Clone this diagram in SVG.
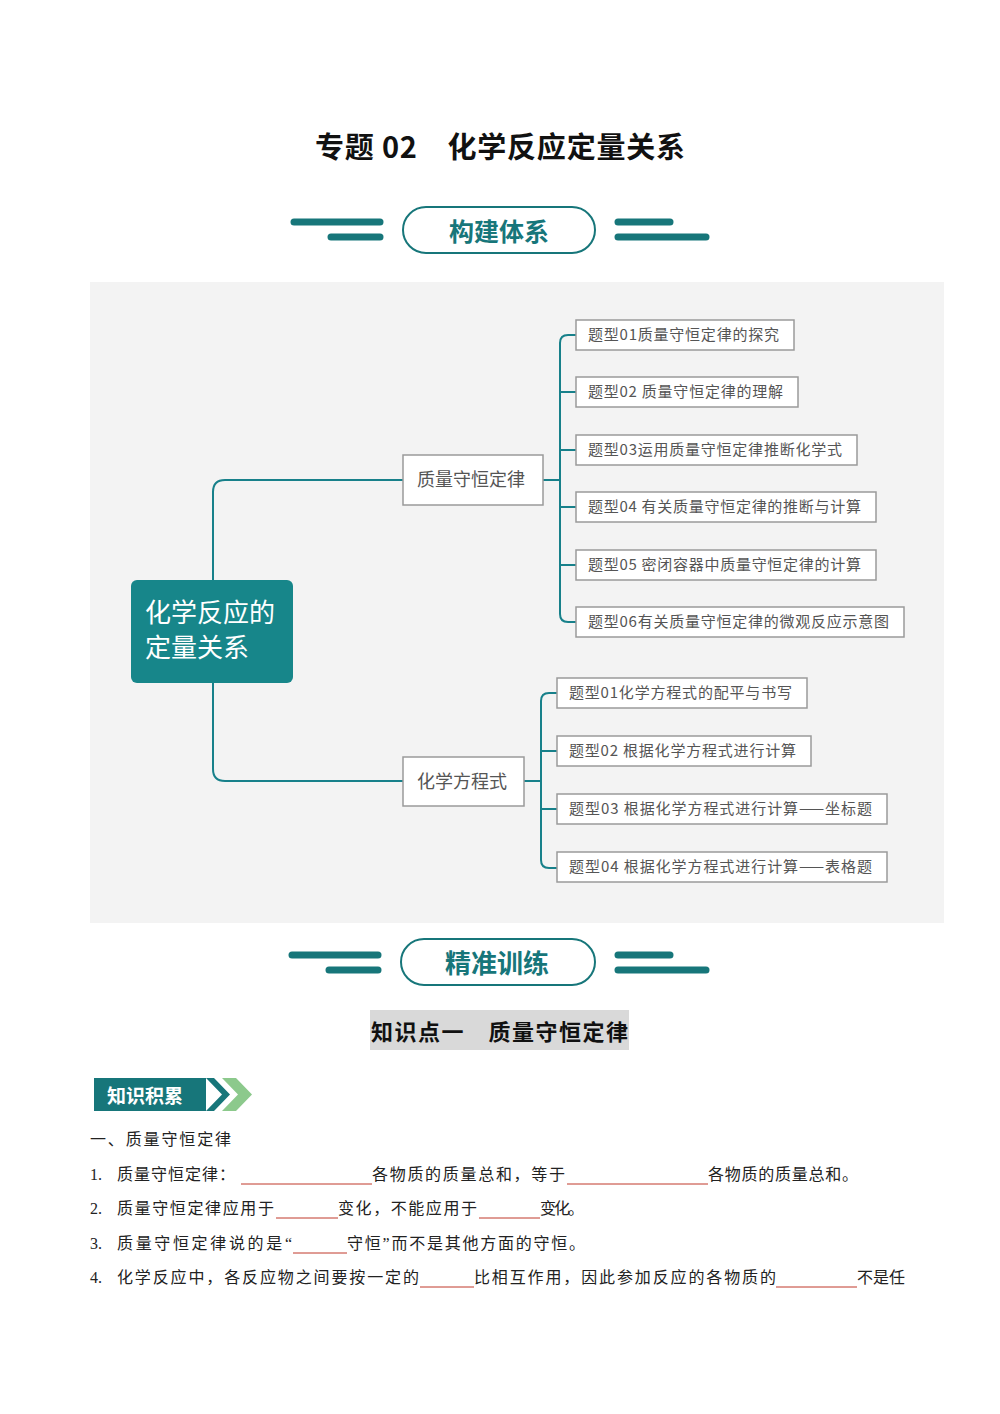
<svg xmlns="http://www.w3.org/2000/svg" width="1000" height="1414" viewBox="0 0 1000 1414">
<style>
.t{font-family:"Liberation Serif","Noto Sans CJK SC",serif;fill:#222}
.h{font-family:"Noto Sans CJK SC",sans-serif;font-weight:bold}
.bar{stroke:#17767a;stroke-width:7;stroke-linecap:round}
.leaf{fill:#fff;stroke:#9a9a9a;stroke-width:1.5}
.lt{font-family:"Noto Sans CJK SC",sans-serif;font-size:15px;fill:#555}
.con{fill:none;stroke:#17808a;stroke-width:2}
.blank{stroke:#c0392b;stroke-width:1}
</style>
<rect width="1000" height="1414" fill="#fff"/>
<text x="315" y="158" textLength="370" font-size="29" class="h" fill="#111">专题 02　化学反应定量关系</text>
<g id="banner1">
<line class="bar" x1="294" y1="222" x2="380" y2="222"/><line class="bar" x1="331" y1="237" x2="380" y2="237"/>
<line class="bar" x1="618" y1="222" x2="670" y2="222"/><line class="bar" x1="618" y1="237" x2="706" y2="237"/>
<rect x="403" y="207" width="192" height="46" rx="23" fill="#fff" stroke="#17767a" stroke-width="2"/>
<text x="499" y="241" text-anchor="middle" font-size="25" class="h" fill="#17767a">构建体系</text>
</g>
<rect x="90" y="282" width="854" height="641" fill="#f3f3f3"/>
<g id="connectors">
<path class="con" d="M213 580 V492 Q213 480 225 480 H403"/>
<path class="con" d="M213 683 V769 Q213 781 225 781 H403"/>
<path class="con" d="M543 480 H560 M568 335 Q560 335 560 343 V614 Q560 622 568 622 H576 M560 392 Q560 392 576 392 M560 450 H576 M560 507 H576 M560 565 H576 M568 335 H576" stroke-width="1.5"/>
<path class="con" d="M524 781 H541 M549 693 Q541 693 541 701 V860 Q541 868 549 868 H557 M549 693 H557 M541 751 H557 M541 809 H557" stroke-width="1.5"/>
</g>
<g id="center"><rect x="131" y="580" width="162" height="103" rx="6" fill="#17868a"/>
<text x="145" y="622" font-size="26" textLength="130" font-family="Noto Sans CJK SC,sans-serif" fill="#fff">化学反应的</text>
<text x="145" y="657" font-size="26" textLength="104" font-family="Noto Sans CJK SC,sans-serif" fill="#fff">定量关系</text></g>
<g id="n1"><rect class="leaf" x="403" y="455" width="140" height="50"/><text class="lt" x="417" y="486" style="font-size:18px">质量守恒定律</text></g>
<g id="n2"><rect class="leaf" x="403" y="757" width="121" height="49"/><text class="lt" x="417" y="788" style="font-size:18px">化学方程式</text></g>
<g id="l1"><rect class="leaf" x="576" y="320" width="218" height="30"/><text class="lt" x="588" y="340" textLength="191">题型01质量守恒定律的探究</text></g>
<g id="l2"><rect class="leaf" x="576" y="377" width="222" height="30"/><text class="lt" x="588" y="397" textLength="195">题型02 质量守恒定律的理解</text></g>
<g id="l3"><rect class="leaf" x="576" y="435" width="281" height="30"/><text class="lt" x="588" y="455" textLength="254">题型03运用质量守恒定律推断化学式</text></g>
<g id="l4"><rect class="leaf" x="576" y="492" width="300" height="30"/><text class="lt" x="588" y="512" textLength="273">题型04 有关质量守恒定律的推断与计算</text></g>
<g id="l5"><rect class="leaf" x="576" y="550" width="300" height="30"/><text class="lt" x="588" y="570" textLength="273">题型05 密闭容器中质量守恒定律的计算</text></g>
<g id="l6"><rect class="leaf" x="576" y="607" width="328" height="30"/><text class="lt" x="588" y="627" textLength="301">题型06有关质量守恒定律的微观反应示意图</text></g>
<g id="m1"><rect class="leaf" x="557" y="678" width="250" height="30"/><text class="lt" x="569" y="698" textLength="223">题型01化学方程式的配平与书写</text></g>
<g id="m2"><rect class="leaf" x="557" y="736" width="254" height="30"/><text class="lt" x="569" y="756" textLength="227">题型02 根据化学方程式进行计算</text></g>
<g id="m3"><rect class="leaf" x="557" y="794" width="330" height="30"/><text class="lt" x="569" y="814" textLength="303">题型03 根据化学方程式进行计算——坐标题</text></g>
<g id="m4"><rect class="leaf" x="557" y="852" width="330" height="30"/><text class="lt" x="569" y="872" textLength="303">题型04 根据化学方程式进行计算——表格题</text></g>
<g id="banner2">
<line class="bar" x1="292" y1="955" x2="378" y2="955"/><line class="bar" x1="329" y1="970" x2="378" y2="970"/>
<line class="bar" x1="618" y1="955" x2="670" y2="955"/><line class="bar" x1="618" y1="970" x2="706" y2="970"/>
<rect x="401" y="939" width="194" height="46" rx="23" fill="#fff" stroke="#17767a" stroke-width="2"/>
<text x="497" y="973" text-anchor="middle" font-size="26" class="h" fill="#17767a">精准训练</text>
</g>
<rect x="370" y="1010" width="259" height="40" fill="#d9d9d9"/>
<text x="371" y="1040" textLength="257" font-size="22" class="h" fill="#111">知识点一　质量守恒定律</text>
<g id="tag">
<rect x="94" y="1078" width="112" height="33" fill="#17767a"/>
<polygon points="206,1078 214,1078 230,1094.5 214,1111 206,1111 222,1094.5" fill="#17767a"/>
<polygon points="222,1078 236,1078 252,1094.5 236,1111 222,1111 238,1094.5" fill="#8cc98c"/>
<text x="107" y="1103" font-size="19" class="h" fill="#fff">知识积累</text>
</g>
<g font-size="16">
<text class="t" x="90" y="1145" textLength="141">一、质量守恒定律</text>
<text class="t" x="90" y="1180">1.</text><text class="t" x="117" y="1180" textLength="118">质量守恒定律：</text><text class="t" x="372" y="1180" textLength="193">各物质的质量总和，等于</text><text class="t" x="708" y="1180" textLength="150">各物质的质量总和。</text>
<line class="blank" x1="241" y1="1184" x2="372" y2="1184"/><line class="blank" x1="567" y1="1184" x2="708" y2="1184"/>
<text class="t" x="90" y="1214">2.</text><text class="t" x="117" y="1214" textLength="157">质量守恒定律应用于</text><text class="t" x="338" y="1214" textLength="139">变化，不能应用于</text><text class="t" x="540" y="1214" textLength="44">变化。</text>
<line class="blank" x1="276" y1="1218" x2="338" y2="1218"/><line class="blank" x1="479" y1="1218" x2="540" y2="1218"/>
<text class="t" x="90" y="1249">3.</text><text class="t" x="117" y="1249" textLength="175">质量守恒定律说的是“</text><text class="t" x="347" y="1249" textLength="238">守恒”而不是其他方面的守恒。</text>
<line class="blank" x1="293" y1="1253" x2="347" y2="1253"/>
<text class="t" x="90" y="1283">4.</text><text class="t" x="117" y="1283" textLength="302">化学反应中，各反应物之间要按一定的</text><text class="t" x="474" y="1283" textLength="302">比相互作用，因此参加反应的各物质的</text><text class="t" x="857" y="1283">不是任</text>
<line class="blank" x1="420" y1="1287" x2="474" y2="1287"/><line class="blank" x1="776" y1="1287" x2="857" y2="1287"/>
</g>
</svg>
